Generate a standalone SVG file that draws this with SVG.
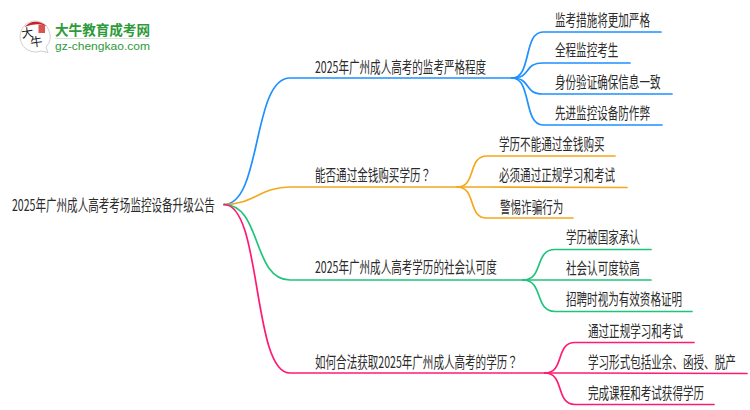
<svg xmlns="http://www.w3.org/2000/svg" width="750" height="410" viewBox="0 0 750 410">
<style>
text{font-family:"Noto Sans CJK SC","Liberation Sans",sans-serif;fill:#2b2b2b;font-size:16px}
.q{font-family:"Noto Sans CJK TC",sans-serif}
.c{fill:none;stroke-width:1.7;stroke-linecap:round}
.b{stroke:#1e90ff}.o{stroke:#f5a81c}.g{stroke:#1fc47a}.p{stroke:#ff1a75}
</style>
<rect width="750" height="410" fill="#fff"/>
<g id="logo">
<path d="M36 21A15.5 15.5 0 1 0 41 51L48 52.500L46 47A15.500 15.500 0 0 0 36 21Z" fill="#fff" stroke="#cfcfcf" stroke-width="1"/>
<path d="M24.500 27Q34 17 47 26Q36 22 24.500 27Z" fill="#c8222a"/>
<rect x="38.500" y="25" width="6.500" height="8" fill="#d9534f"/>
<text style="font-size:12px;fill:#222" transform="translate(22 38) rotate(-8)">大</text>
<text style="font-size:12px;fill:#222" transform="translate(31 47) rotate(-8)">牛</text>
<text x="55" y="35" textLength="95" lengthAdjust="spacingAndGlyphs" style="font-size:14px;font-weight:700;fill:#2e9a3a">大牛教育成考网</text>
<rect x="55" y="38" width="95" height="1" fill="#d5e6d5"/>
<text x="55" y="49.500" textLength="95" lengthAdjust="spacingAndGlyphs" style="font-family:'Liberation Sans',sans-serif;font-size:11px;fill:#2e9a3a">gz-chengkao.com</text>
</g>
<g id="connectors">
<path class="c b" d="M224 204.500C262 204.500 252 78 290 78H512"/>
<path class="c o" d="M224 204.500C254 204.500 260 187 290 187H457"/>
<path class="c g" d="M224 204.500C262 204.500 252 280 290 280H523"/>
<path class="c p" d="M224 204.500C262 204.500 252 373 290 373H545"/>
<path class="c b" d="M512 78C532 78 523 32 543 32H661"/>
<path class="c b" d="M512 78C532 78 523 63 543 63H630"/>
<path class="c b" d="M512 78C532 78 523 94 543 94H672"/>
<path class="c b" d="M512 78C532 78 523 125 543 125H662"/>
<path class="c o" d="M457 187C477 187 467 156 487 156H615"/>
<path class="c o" d="M457 187H487L627 187.500"/>
<path class="c o" d="M457 187C477 187 467 218 487 218H573"/>
<path class="c g" d="M523 280C544 280 534 249.500 555 249.500H651"/>
<path class="c g" d="M523 280H651"/>
<path class="c g" d="M523 280C544 280 534 311.500 555 311.500H692"/>
<path class="c p" d="M545 373C565 373 555 342.500 575 342.500H694"/>
<path class="c p" d="M545 373H575L747 373.500"/>
<path class="c p" d="M545 373C565 373 555 404.500 575 404.500H714"/>
</g>
<g id="root"><text transform="translate(12 211) scale(.66 1)">2025年广州成人高考考场监控设备升级公告</text></g>
<g id="n1"><text transform="translate(315 73) scale(.66 1)">2025年广州成人高考的监考严格程度</text></g>
<g id="n1a"><text transform="translate(555 25.500) scale(.66 1)">监考措施将更加严格</text></g>
<g id="n1b"><text transform="translate(555 56) scale(.66 1)">全程监控考生</text></g>
<g id="n1c"><text transform="translate(555 88) scale(.66 1)">身份验证确保信息一致</text></g>
<g id="n1d"><text transform="translate(555 119) scale(.66 1)">先进监控设备防作弊</text></g>
<g id="n2"><text transform="translate(315 181) scale(.66 1)">能否通过金钱购买学历<tspan class="q">？</tspan></text></g>
<g id="n2a"><text transform="translate(499 150) scale(.66 1)">学历不能通过金钱购买</text></g>
<g id="n2b"><text transform="translate(499 181) scale(.66 1)">必须通过正规学习和考试</text></g>
<g id="n2c"><text transform="translate(500 213) scale(.66 1)">警惕诈骗行为</text></g>
<g id="n3"><text transform="translate(315 273) scale(.66 1)">2025年广州成人高考学历的社会认可度</text></g>
<g id="n3a"><text transform="translate(566 243) scale(.66 1)">学历被国家承认</text></g>
<g id="n3b"><text transform="translate(566 274) scale(.66 1)">社会认可度较高</text></g>
<g id="n3c"><text transform="translate(566 305) scale(.66 1)">招聘时视为有效资格证明</text></g>
<g id="n4"><text transform="translate(315 368) scale(.66 1)">如何合法获取2025年广州成人高考的学历<tspan class="q">？</tspan></text></g>
<g id="n4a"><text transform="translate(588 337) scale(.66 1)">通过正规学习和考试</text></g>
<g id="n4b"><text transform="translate(588 368) scale(.66 1)">学习形式包括业余、函授、脱产</text></g>
<g id="n4c"><text transform="translate(588 399) scale(.66 1)">完成课程和考试获得学历</text></g>
</svg>
